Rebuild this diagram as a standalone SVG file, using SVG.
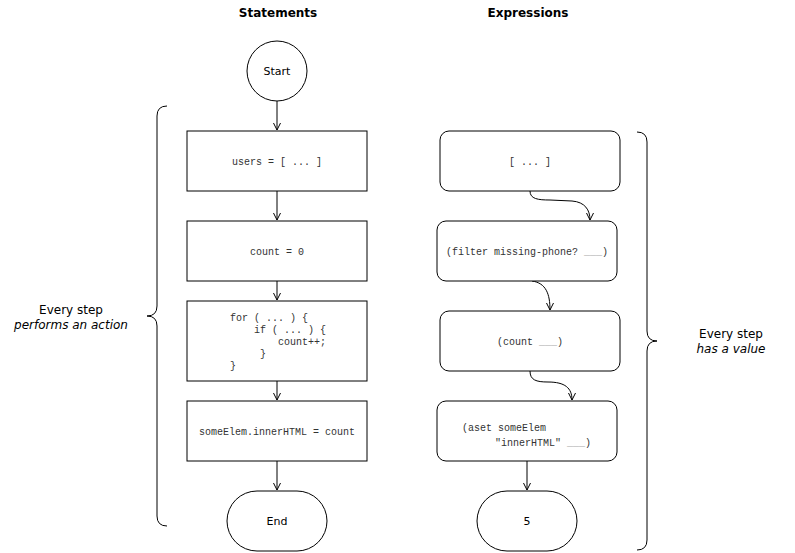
<svg xmlns="http://www.w3.org/2000/svg" width="795" height="553" viewBox="0 0 795 553">
<defs>
<style>
.node{fill:#fff;stroke:#000;stroke-width:1}
.edge{fill:none;stroke:#000;stroke-width:1;marker-end:url(#arr)}
.brace{fill:none;stroke:#000;stroke-width:1}
.lbl{font-family:"DejaVu Sans",Verdana,sans-serif;font-size:11px;fill:#000;text-anchor:middle}
.hdr{font-family:"DejaVu Sans",Verdana,sans-serif;font-size:12px;font-weight:bold;fill:#000;text-anchor:middle}
.side{font-family:"DejaVu Sans",Verdana,sans-serif;font-size:12px;fill:#000;text-anchor:middle}
.code{font-family:"Liberation Mono","Courier New",monospace;font-size:10px;fill:#333;text-anchor:middle}
.codel{font-family:"Liberation Mono","Courier New",monospace;font-size:10px;fill:#333}
.blank{fill:#aaa}
</style>
<marker id="arr" markerUnits="userSpaceOnUse" markerWidth="10" markerHeight="10" viewBox="0 0 10 10" refX="8" refY="5" orient="auto">
<path d="M1,1.5 L8,5 L1,8.5" fill="none" stroke="#000" stroke-width="1"/>
</marker>
</defs>
<rect width="795" height="553" fill="#fff"/>

<text class="hdr" x="278" y="17">Statements</text>
<text class="hdr" x="528" y="17">Expressions</text>

<g id="connectors">
<path class="edge" d="M277,101 L277,130"/>
<path class="edge" d="M277,191 L277,220"/>
<path class="edge" d="M277,281 L277,300"/>
<path class="edge" d="M277,381 L277,400"/>
<path class="edge" d="M277,461 L277,490"/>
<path class="edge" d="M530,191 C530,199 538,200 550,200 L572,201 C585,202 590,210 590,220"/>
<path class="edge" d="M532,281 C546,283 550,294 550,310"/>
<path class="edge" d="M530,371 C530,380 536,382 548,382 C565,382 572,388 572,400"/>
<path class="edge" d="M527,461 L527,490"/>
</g>

<g id="start">
<circle class="node" cx="277" cy="71" r="30"/>
<text class="lbl" x="277" y="75">Start</text>
</g>
<g id="users">
<rect class="node" x="187" y="131" width="180" height="60"/>
<text class="code" x="277" y="164.5">users = [ ... ]</text>
</g>
<g id="count0">
<rect class="node" x="187" y="221" width="180" height="60"/>
<text class="code" x="277" y="254.5">count = 0</text>
</g>
<g id="forloop">
<rect class="node" x="187" y="301" width="180" height="80"/>
<text class="codel" x="230" y="320.5">for ( ... ) {</text>
<text class="codel" x="254" y="332.5">if ( ... ) {</text>
<text class="codel" x="278" y="344.5">count++;</text>
<text class="codel" x="260" y="356.5">}</text>
<text class="codel" x="230" y="368.5">}</text>
</g>
<g id="inner">
<rect class="node" x="187" y="401" width="180" height="60"/>
<text class="code" x="277" y="434.5">someElem.innerHTML = count</text>
</g>
<g id="end">
<rect class="node" x="227" y="491" width="100" height="60" rx="30" ry="30"/>
<text class="lbl" x="277" y="525">End</text>
</g>

<g id="arr-expr">
<rect class="node" x="440" y="131" width="180" height="60" rx="9" ry="9"/>
<text class="code" x="530" y="164.5">[ ... ]</text>
</g>
<g id="filter">
<rect class="node" x="437" y="221" width="180" height="60" rx="9" ry="9"/>
<text class="code" x="527" y="254.5">(filter missing-phone? <tspan class="blank">___</tspan>)</text>
</g>
<g id="countexpr">
<rect class="node" x="440" y="311" width="180" height="60" rx="9" ry="9"/>
<text class="code" x="530" y="344.5">(count <tspan class="blank">___</tspan>)</text>
</g>
<g id="aset">
<rect class="node" x="437" y="401" width="180" height="60" rx="9" ry="9"/>
<text class="codel" x="462" y="430.5">(aset someElem</text>
<text class="codel" x="495" y="445.5">"innerHTML" <tspan class="blank">___</tspan>)</text>
</g>
<g id="five">
<rect class="node" x="477" y="491" width="100" height="60" rx="30" ry="30"/>
<text class="lbl" x="527" y="525">5</text>
</g>

<g id="brace-left">
<path class="brace" d="M167,106 Q157,106 157,116 L157,306 Q157,316 147,316 Q157,316 157,326 L157,516 Q157,526 167,526"/>
<text class="side" x="71" y="314">Every step</text>
<text class="side" x="71" y="329" font-style="italic">performs an action</text>
</g>
<g id="brace-right">
<path class="brace" d="M637,132 Q647,132 647,142 L647,331 Q647,341 657,341 Q647,341 647,351 L647,540 Q647,550 637,550"/>
<text class="side" x="731" y="338">Every step</text>
<text class="side" x="731" y="353" font-style="italic">has a value</text>
</g>
</svg>
